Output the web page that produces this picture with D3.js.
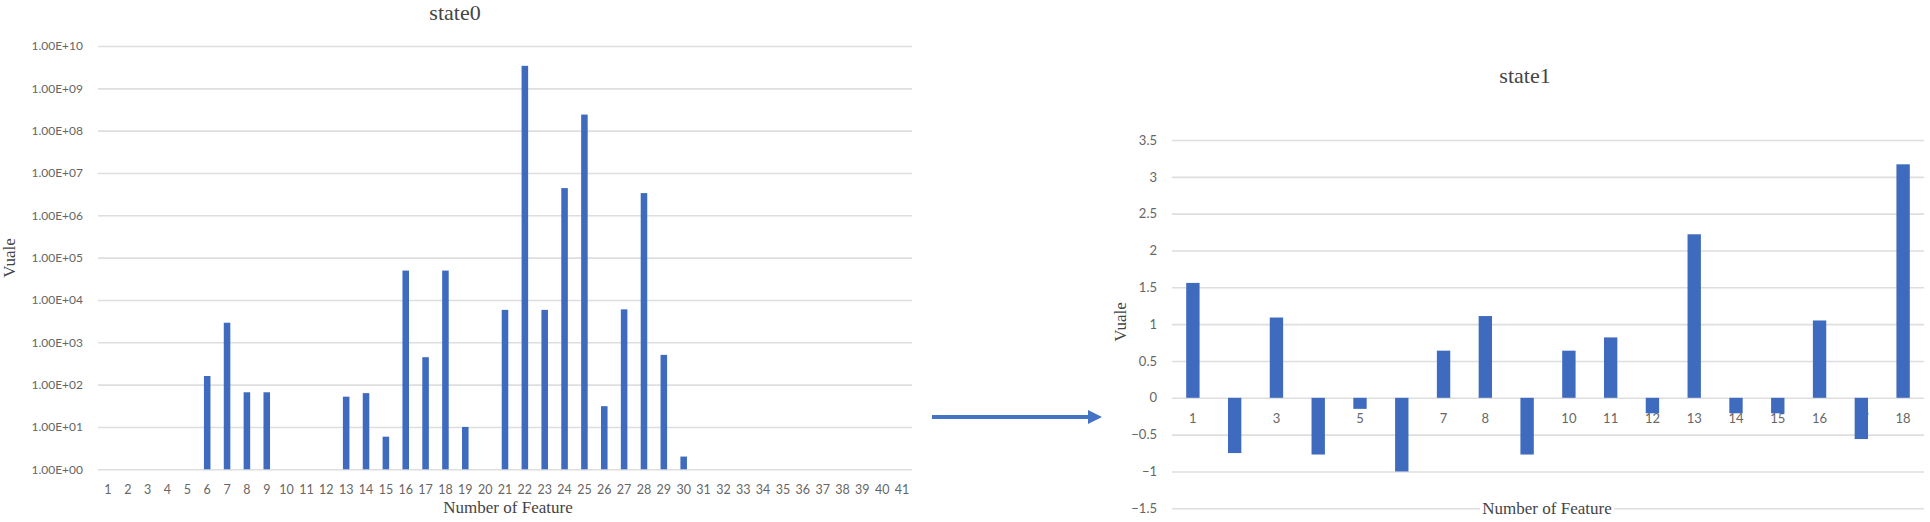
<!DOCTYPE html>
<html>
<head>
<meta charset="utf-8">
<script src="https://cdn.jsdelivr.net/npm/d3@7/dist/d3.min.js"></script>
<style>
  body { margin: 0; background: #fff; }
  svg { display: block; }
  .tick text { font-family: Lato, "Open Sans", sans-serif; fill: #666; }
  .serif { font-family: "Liberation Serif", "DejaVu Serif", serif; fill: #444; }
</style>
</head>
<body>
<svg id="chart" width="1930" height="522"></svg>
<script>
// state0: features 1..41, log-scale values (0 = no bar)
var features0 = d3.range(1, 42).map(String);
var values0 = [0, 0, 0, 0, 0, 160, 2900, 66, 66, 0, 0, 0, 52, 63, 5.9, 49500, 445, 49500, 10, 0,
  5840, 3.4e9, 5840, 4.4e6, 2.4e8, 31, 6000, 3.35e6, 505, 2, 0, 0, 0, 0, 0, 0, 0, 0, 0, 0, 0];
var ticks0 = [1, 10, 100, 1e3, 1e4, 1e5, 1e6, 1e7, 1e8, 1e9, 1e10];

// state1: features 1..18
var features1 = d3.range(1, 19).map(String);
var values1 = [1.56, -0.75, 1.09, -0.77, -0.15, -1.0, 0.64, 1.11, -0.77, 0.64, 0.82, -0.21,
  2.22, -0.21, -0.21, 1.05, -0.56, 3.17];
var ticks1 = [-1.5, -1, -0.5, 0, 0.5, 1, 1.5, 2, 2.5, 3, 3.5];

var blue = "#3f6bbf";
var grid = "#dedede";
var svg = d3.select("#chart");

// ---- left chart ----
var x0 = d3.scaleBand().domain(features0).range([98, 912]).paddingInner(0.67).paddingOuter(0.335);
var y0 = d3.scaleLog().domain([1, 1e10]).range([469.3, 46]);

function expFmt(d) {
  var e = Math.round(Math.log10(d));
  return "1.00E+" + (e < 10 ? "0" + e : e);
}

var gy0 = svg.append("g").attr("transform", "translate(98,0)")
  .call(d3.axisLeft(y0).tickValues(ticks0).tickFormat(expFmt).tickSize(-814).tickPadding(15));
gy0.select(".domain").remove();
gy0.selectAll(".tick line").attr("stroke", grid).attr("stroke-width", 1.6);
gy0.selectAll(".tick text").attr("font-size", 12);

var gx0 = svg.append("g").attr("transform", "translate(0,469.3)")
  .call(d3.axisBottom(x0).tickSize(0).tickPadding(16));
gx0.select(".domain").remove();
gx0.selectAll(".tick text").attr("font-size", 12.5);

svg.append("g").selectAll("rect").data(values0).join("rect")
  .attr("x", function (d, i) { return x0(features0[i]); })
  .attr("width", x0.bandwidth())
  .attr("y", function (d) { return y0(Math.max(d, 1)); })
  .attr("height", function (d) { return y0(1) - y0(Math.max(d, 1)); })
  .attr("fill", blue);

svg.append("text").attr("class", "serif").attr("x", 455).attr("y", 20)
  .attr("text-anchor", "middle").attr("font-size", 22).text("state0");
svg.append("text").attr("class", "serif").attr("x", 508).attr("y", 513)
  .attr("text-anchor", "middle").attr("font-size", 17).text("Number of Feature");
svg.append("text").attr("class", "serif")
  .attr("transform", "translate(15,258) rotate(-90)")
  .attr("text-anchor", "middle").attr("font-size", 17).text("Vuale");

// ---- arrow ----
svg.append("line").attr("x1", 932).attr("y1", 417).attr("x2", 1092).attr("y2", 417)
  .attr("stroke", "#4472c4").attr("stroke-width", 4);
svg.append("path").attr("d", "M1088,410L1102,417L1088,424Z").attr("fill", "#4472c4");

// ---- right chart ----
var x1 = d3.scaleBand().domain(features1).range([1172, 1924]).paddingInner(0.68).paddingOuter(0.34);
var y1 = d3.scaleLinear().domain([-1.5, 3.5]).range([508.3, 140]);

var gy1 = svg.append("g").attr("transform", "translate(1172,0)")
  .call(d3.axisLeft(y1).tickValues(ticks1).tickFormat(d3.format("")).tickSize(-752).tickPadding(15));
gy1.select(".domain").remove();
gy1.selectAll(".tick line").attr("stroke", grid).attr("stroke-width", 1.6);
gy1.selectAll(".tick text").attr("font-size", 13);

var gx1 = svg.append("g").attr("transform", "translate(0," + y1(0) + ")")
  .call(d3.axisBottom(x1).tickSize(0).tickPadding(16));
gx1.select(".domain").remove();
gx1.selectAll(".tick text").attr("font-size", 13);

svg.append("g").selectAll("rect").data(values1).join("rect")
  .attr("x", function (d, i) { return x1(features1[i]); })
  .attr("width", x1.bandwidth())
  .attr("y", function (d) { return y1(Math.max(d, 0)); })
  .attr("height", function (d) { return Math.abs(y1(d) - y1(0)); })
  .attr("fill", blue);

svg.append("text").attr("class", "serif").attr("x", 1525).attr("y", 83)
  .attr("text-anchor", "middle").attr("font-size", 22).text("state1");
svg.append("rect").attr("x", 1480).attr("y", 497).attr("width", 134).attr("height", 20).attr("fill", "#fff");
svg.append("text").attr("class", "serif").attr("x", 1547).attr("y", 514)
  .attr("text-anchor", "middle").attr("font-size", 17).text("Number of Feature");
svg.append("text").attr("class", "serif")
  .attr("transform", "translate(1126,322) rotate(-90)")
  .attr("text-anchor", "middle").attr("font-size", 17).text("Vuale");
</script>
</body>
</html>
